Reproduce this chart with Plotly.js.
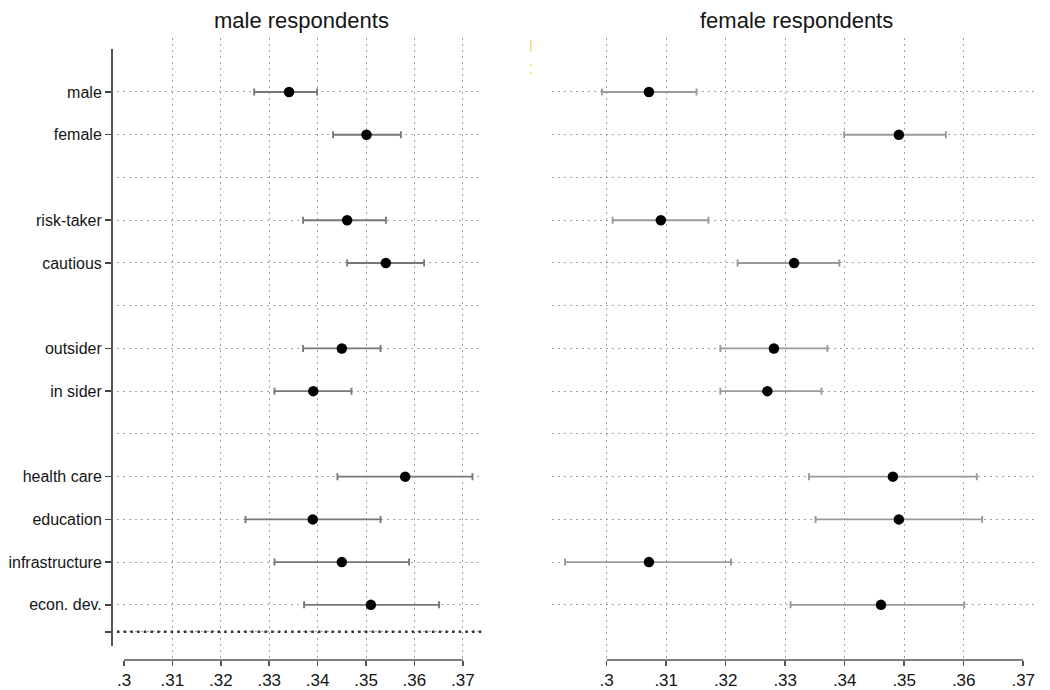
<!DOCTYPE html>
<html>
<head>
<meta charset="utf-8">
<script src="https://cdn.plot.ly/plotly-3.0.1.min.js"></script>
<style>html,body{margin:0;padding:0;background:#fff;}#chart{width:1050px;height:690px;}</style>
</head>
<body>
<div id="chart"></div>
<script>
// ---- data ----
const rowLabels = ['male','female','risk-taker','cautious','outsider','in sider','health care','education','infrastructure','econ. dev.'];
const rowPos = [0, 1, 3, 4, 6, 7, 9, 10, 11, 12];
const gapRows = [2, 5, 8];
const baseRow = 12.63;

const maleEst = [0.3341, 0.3501, 0.3461, 0.3541, 0.3450, 0.3391, 0.3581, 0.3390, 0.3450, 0.3510];
const maleLo  = [0.3269, 0.3432, 0.3370, 0.3461, 0.3370, 0.3311, 0.3441, 0.3251, 0.3311, 0.3372];
const maleHi  = [0.3399, 0.3572, 0.3541, 0.3620, 0.3530, 0.3470, 0.3720, 0.3530, 0.3589, 0.3651];

const femaleEst = [0.3071, 0.3491, 0.3091, 0.3315, 0.3281, 0.3270, 0.3481, 0.3491, 0.3071, 0.3461];
const femaleLo  = [0.2992, 0.3399, 0.3010, 0.3220, 0.3191, 0.3191, 0.3340, 0.3351, 0.2930, 0.3309];
const femaleHi  = [0.3151, 0.3570, 0.3171, 0.3391, 0.3371, 0.3361, 0.3622, 0.3631, 0.3209, 0.3601];

const xTickVals = [0.30, 0.31, 0.32, 0.33, 0.34, 0.35, 0.36, 0.37];
const xTickText = ['.3', '.31', '.32', '.33', '.34', '.35', '.36', '.37'];
const gridLeft  = [0.31, 0.32, 0.33, 0.34, 0.35, 0.36, 0.37];
const gridRight = [0.30, 0.31, 0.32, 0.33, 0.34, 0.35, 0.36];

const panelTitles = ['male respondents', 'female respondents'];

// ---- layout helpers ----
const W = 1050, H = 690, TOP = 38, BOT = 660;
const PH = BOT - TOP;
const px = v => v / W;
const py = p => (BOT - p) / PH;
const yRange = [13.29, -1.263];
const rangeL = [0.29855, 0.37417];
const rangeR = [0.29081, 0.37198];
const FONT = '"Liberation Sans", Arial, Helvetica, sans-serif';
const TXT = '#151515';
const GRID = '#a3a3a3';
const GDASH = '2px,4px';

function errTrace(est, lo, hi, xa, ya, col) {
  return {
    type: 'scatter', mode: 'markers', x: est, y: rowPos, xaxis: xa, yaxis: ya,
    marker: {size: 10.5, color: '#000'},
    error_x: {type: 'data', symmetric: false,
      array: hi.map((h, i) => h - est[i]),
      arrayminus: lo.map((l, i) => est[i] - l),
      color: col, thickness: 1.9, width: 3.5},
    hoverinfo: 'skip', showlegend: false, cliponaxis: false
  };
}

const data = [
  errTrace(maleEst, maleLo, maleHi, 'x', 'y', '#777777'),
  errTrace(femaleEst, femaleLo, femaleHi, 'x2', 'y2', '#9a9a9a'),
  {type: 'scatter', mode: 'markers', x: [], y: [], xaxis: 'x3', yaxis: 'y', showlegend: false, hoverinfo: 'skip'},
  {type: 'scatter', mode: 'markers', x: [], y: [], xaxis: 'x4', yaxis: 'y2', showlegend: false, hoverinfo: 'skip'}
];

const gridAxis = (dom, rng, anchor, vals) => ({
  domain: dom, range: rng, anchor: anchor, fixedrange: true,
  tickmode: 'array', tickvals: vals, showticklabels: false, ticks: '',
  showgrid: true, gridcolor: GRID, gridwidth: 1, griddash: GDASH,
  zeroline: false, showline: false, automargin: false
});
const labelAxis = (over, rng, anchor) => ({
  overlaying: over, anchor: anchor, side: 'bottom', range: rng, fixedrange: true,
  tickmode: 'array', tickvals: xTickVals, ticktext: xTickText,
  ticks: 'outside', ticklen: 5, tickwidth: 1.5, tickcolor: '#555',
  tickfont: {family: FONT, size: 17, color: TXT},
  showgrid: false, zeroline: false, showline: false, automargin: false
});

const layout = {
  width: W, height: H,
  margin: {l: 0, r: 0, t: TOP, b: H - BOT, pad: 0},
  paper_bgcolor: '#fff', plot_bgcolor: '#fff',
  showlegend: false,
  font: {family: FONT, color: TXT},
  xaxis:  gridAxis([px(117), px(483)], rangeL, 'y', gridLeft),
  xaxis2: gridAxis([px(552), px(1035)], rangeR, 'y2', gridRight),
  xaxis3: labelAxis('x', rangeL, 'y'),
  xaxis4: labelAxis('x2', rangeR, 'y2'),
  yaxis: {
    domain: [0, 1], range: yRange, anchor: 'free', position: px(112), fixedrange: true,
    tickmode: 'array', tickvals: rowPos.concat([baseRow]), ticktext: rowLabels.concat(['']),
    ticks: 'outside', ticklen: 7, tickwidth: 1.5, tickcolor: '#444',
    tickfont: {family: FONT, size: 16, color: TXT},
    showgrid: true, gridcolor: GRID, gridwidth: 1, griddash: GDASH,
    minor: {tickmode: 'array', tickvals: gapRows, ticks: '', showgrid: true, gridcolor: GRID, gridwidth: 1, griddash: GDASH},
    zeroline: false, showline: false, automargin: false
  },
  yaxis2: {
    domain: [0, 1], range: yRange, anchor: 'x2', fixedrange: true,
    tickmode: 'array', tickvals: rowPos.concat(gapRows), showticklabels: false, ticks: '',
    showgrid: true, gridcolor: GRID, gridwidth: 1, griddash: GDASH,
    zeroline: false, showline: false, automargin: false
  },
  annotations: [
    {text: panelTitles[0], xref: 'paper', yref: 'paper', x: px(301), y: 1 + 18 / PH,
     xanchor: 'center', yanchor: 'middle', showarrow: false, font: {family: FONT, size: 22, color: TXT}},
    {text: panelTitles[1], xref: 'paper', yref: 'paper', x: px(796), y: 1 + 18 / PH,
     xanchor: 'center', yanchor: 'middle', showarrow: false, font: {family: FONT, size: 22, color: TXT}}
  ],
  shapes: [
    // left y axis line
    {type: 'line', xref: 'paper', yref: 'paper', x0: px(112), x1: px(112), y0: py(646), y1: py(49),
     line: {color: '#555', width: 2}},
    // x axis lines (span .3 to .37)
    {type: 'line', xref: 'x', yref: 'paper', x0: xTickVals[0], x1: xTickVals[xTickVals.length - 1], y0: 0, y1: 0,
     line: {color: '#555', width: 1.6}},
    {type: 'line', xref: 'x2', yref: 'paper', x0: xTickVals[0], x1: xTickVals[xTickVals.length - 1], y0: 0, y1: 0,
     line: {color: '#555', width: 1.6}},
    // heavy dotted base line in left panel
    {type: 'line', xref: 'x domain', yref: 'y', x0: 0, x1: 1, y0: baseRow, y1: baseRow,
     line: {color: '#333', width: 2.4, dash: '2.5px,4.2px'}},
    // faint yellow artifact
    {type: 'line', xref: 'paper', yref: 'paper', x0: px(530.7), x1: px(530.7), y0: py(52), y1: py(40),
     line: {color: '#f2dc72', width: 1.4}},
    {type: 'line', xref: 'paper', yref: 'paper', x0: px(530.7), x1: px(530.7), y0: py(74), y1: py(59),
     line: {color: '#f2dc72', width: 1.4, dash: '2px,6px'}}
  ]
};

Plotly.newPlot('chart', data, layout, {staticPlot: true, displayModeBar: false});
</script>
</body>
</html>
